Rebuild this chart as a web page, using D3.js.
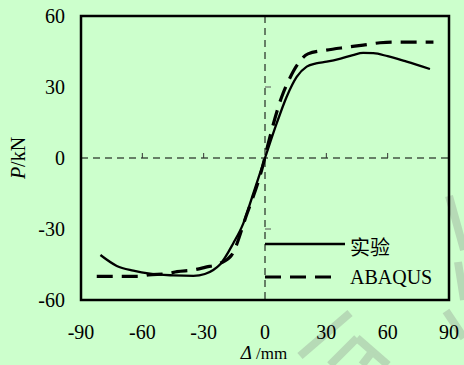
<!DOCTYPE html>
<html>
<head>
<meta charset="utf-8">
<script src="https://cdn.jsdelivr.net/npm/d3@7"></script>
<style>
  body { margin: 0; background: #ccffcc; }
  text { font-family: "Liberation Serif", "Times New Roman", serif; fill: #000; }
</style>
</head>
<body>
<div id="chart"></div>
<script>
// test curve (实验)
const testX = [-80.5, -72.5, -64.4, -56.3, -44.8, -35, -29.4, -25.3, -22, -15.5, -10.6, -5.7, 0, 5.7, 10.6, 15.5, 20.4, 25, 30.2, 37, 43, 48, 53, 60, 69.3, 80.7];
const testY = [-41, -45.6, -47.6, -48.9, -49.6, -49.8, -49, -47.3, -45, -36, -27.6, -14.9, 0, 14.6, 25.9, 34.3, 38.6, 40, 40.7, 42, 43.5, 44.4, 44.3, 43, 40.7, 37.6];
// ABAQUS curve
const femX = [-82.3, -62, -57, -48, -43, -35, -29.4, -22, -16.3, -9, -1.6, 1.6, 8.2, 12, 16.3, 21, 30, 40, 48, 56.3, 62.8, 82.4];
const femY = [-50, -50, -49.4, -48.9, -48, -47.3, -46.2, -44.5, -41, -24, -5, 6.2, 25.9, 33.5, 40, 44, 45.6, 46.8, 47.7, 48.7, 49, 49];

const xTicks = [-90, -60, -30, 0, 30, 60, 90];
const yTicks = [-60, -30, 0, 30, 60];
const legendNames = ["实验", "ABAQUS"];

const W = 464, H = 365;
const mLeft = 81, mRight = 449, mTop = 16, mBottom = 300;

const svg = d3.select("#chart").append("svg").attr("width", W).attr("height", H);

// faint watermark strokes in the background
const wm = svg.append("g").attr("stroke", "#b6dab6").attr("stroke-width", 8).attr("fill", "none");
wm.append("path").attr("d", "M350,313 L300,356");
wm.append("path").attr("d", "M357,338 L330,365");
wm.append("path").attr("d", "M357,338 L388,365");
wm.append("path").attr("d", "M372,352 L362,365");
wm.append("path").attr("d", "M446,311 L464,338");
wm.append("path").attr("d", "M449,196 L464,250");
wm.append("path").attr("d", "M458,262 L464,300");

const x = d3.scaleLinear().domain([-90, 90]).range([mLeft, mRight]);
const y = d3.scaleLinear().domain([-60, 60]).range([mBottom, mTop]);

// zero lines
svg.append("line").attr("x1", x(-90)).attr("x2", x(90)).attr("y1", y(0)).attr("y2", y(0))
  .attr("stroke", "#000").attr("stroke-width", 1).attr("stroke-dasharray", "7,5");
svg.append("line").attr("x1", x(0)).attr("x2", x(0)).attr("y1", y(60)).attr("y2", y(-60))
  .attr("stroke", "#000").attr("stroke-width", 1).attr("stroke-dasharray", "7,5");

// small inside ticks on the zero lines
xTicks.filter(d => Math.abs(d) != 90 && d != 0).forEach(d => {
  svg.append("line").attr("x1", x(d)).attr("x2", x(d)).attr("y1", y(0)).attr("y2", y(0) - 5)
    .attr("stroke", "#333").attr("stroke-width", 1);
});
yTicks.filter(d => Math.abs(d) != 60 && d != 0).forEach(d => {
  svg.append("line").attr("x1", x(0)).attr("x2", x(0) + 6).attr("y1", y(d)).attr("y2", y(d))
    .attr("stroke", "#555").attr("stroke-width", 1);
});

// tick labels
svg.selectAll(".xl").data(xTicks).enter().append("text")
  .attr("x", d => x(d)).attr("y", 339).attr("text-anchor", "middle")
  .attr("font-size", 20).text(d => d);
svg.selectAll(".yl").data(yTicks).enter().append("text")
  .attr("x", 65).attr("y", d => y(d) + 7).attr("text-anchor", "end")
  .attr("font-size", 20).text(d => d);

// curves
const line = d3.line().x(d => x(d[0])).y(d => y(d[1])).curve(d3.curveMonotoneX);
svg.append("path").datum(testX.map((v, i) => [v, testY[i]]))
  .attr("d", line).attr("fill", "none").attr("stroke", "#000").attr("stroke-width", 2.3);
svg.append("path").datum(femX.map((v, i) => [v, femY[i]]))
  .attr("d", line).attr("fill", "none").attr("stroke", "#000").attr("stroke-width", 3.2)
  .attr("stroke-dasharray", "16,9");

// legend
svg.append("line").attr("x1", 265).attr("x2", 345).attr("y1", 244).attr("y2", 244)
  .attr("stroke", "#000").attr("stroke-width", 2.3);
svg.append("text").attr("x", 350).attr("y", 255).attr("font-size", 20)
  .style("font-family", "'Noto Sans CJK SC', sans-serif").text(legendNames[0]);
svg.append("line").attr("x1", 265).attr("x2", 340).attr("y1", 277).attr("y2", 277)
  .attr("stroke", "#000").attr("stroke-width", 3.2).attr("stroke-dasharray", "16,9");
svg.append("text").attr("x", 350).attr("y", 284).attr("font-size", 20).text(legendNames[1]);

// frame
svg.append("rect").attr("x", mLeft).attr("y", mTop).attr("width", mRight - mLeft).attr("height", mBottom - mTop)
  .attr("fill", "none").attr("stroke", "#000").attr("stroke-width", 2.5);

// axis titles
const yt = svg.append("text").attr("transform", "translate(25,158) rotate(-90)")
  .attr("text-anchor", "middle").attr("font-size", 20);
yt.append("tspan").attr("font-style", "italic").text("P");
yt.append("tspan").text("/kN");
const xt = svg.append("text").attr("x", 264).attr("y", 359).attr("text-anchor", "middle").attr("font-size", 17);
xt.append("tspan").attr("font-style", "italic").attr("font-size", 19).text("Δ");
xt.append("tspan").text(" /mm");
</script>
</body>
</html>
